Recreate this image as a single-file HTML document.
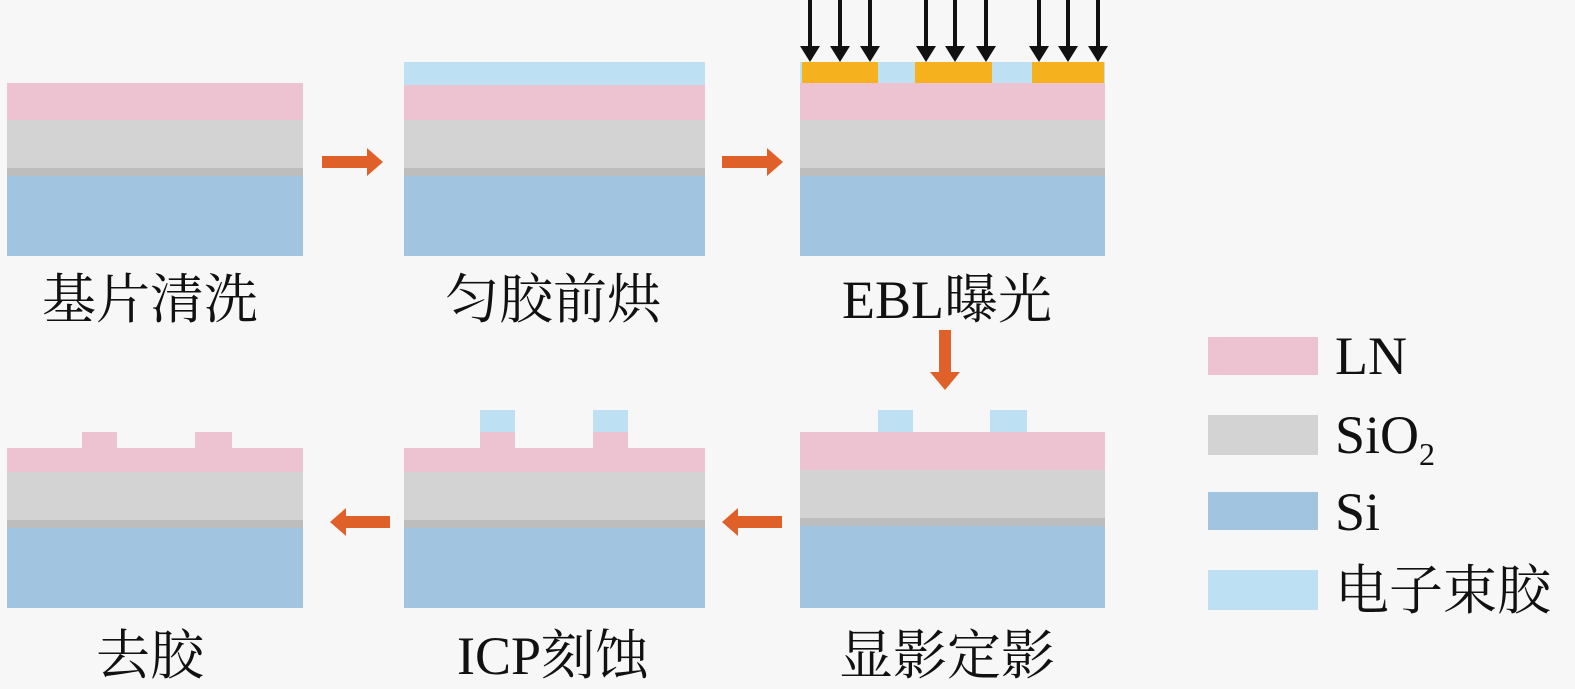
<!DOCTYPE html>
<html><head><meta charset="utf-8"><style>
body{margin:0;background:#f7f7f7;}
svg{display:block}
text{font-family:"Liberation Serif","Noto Serif CJK SC",serif;fill:#111}
</style></head><body>
<svg width="1575" height="689" viewBox="0 0 1575 689">
<rect x="7" y="83" width="296" height="37" fill="#eec3d1"/>
<rect x="7" y="120" width="296" height="48" fill="#d3d3d3"/>
<rect x="7" y="168" width="296" height="8" fill="#bdbdbd"/>
<rect x="7" y="176" width="296" height="80" fill="#a1c4e0"/>
<rect x="404" y="62" width="301" height="23" fill="#bde0f2"/>
<rect x="404" y="85" width="301" height="35" fill="#eec3d1"/>
<rect x="404" y="120" width="301" height="48" fill="#d3d3d3"/>
<rect x="404" y="168" width="301" height="8" fill="#bdbdbd"/>
<rect x="404" y="176" width="301" height="80" fill="#a1c4e0"/>
<rect x="800" y="62" width="305" height="21" fill="#bde0f2"/>
<rect x="802" y="62" width="76" height="21" fill="#f5b21e"/>
<rect x="915" y="62" width="77" height="21" fill="#f5b21e"/>
<rect x="1032" y="62" width="72" height="21" fill="#f5b21e"/>
<rect x="800" y="83" width="305" height="37" fill="#eec3d1"/>
<rect x="800" y="120" width="305" height="48" fill="#d3d3d3"/>
<rect x="800" y="168" width="305" height="8" fill="#bdbdbd"/>
<rect x="800" y="176" width="305" height="80" fill="#a1c4e0"/>
<g stroke="#111" stroke-width="4" fill="#111">
<line x1="810" y1="0" x2="810" y2="48"/><polygon points="800,46 820,46 810,62" stroke="none"/>
<line x1="840" y1="0" x2="840" y2="48"/><polygon points="830,46 850,46 840,62" stroke="none"/>
<line x1="870" y1="0" x2="870" y2="48"/><polygon points="860,46 880,46 870,62" stroke="none"/>
<line x1="926" y1="0" x2="926" y2="48"/><polygon points="916,46 936,46 926,62" stroke="none"/>
<line x1="955" y1="0" x2="955" y2="48"/><polygon points="945,46 965,46 955,62" stroke="none"/>
<line x1="986" y1="0" x2="986" y2="48"/><polygon points="976,46 996,46 986,62" stroke="none"/>
<line x1="1039" y1="0" x2="1039" y2="48"/><polygon points="1029,46 1049,46 1039,62" stroke="none"/>
<line x1="1068" y1="0" x2="1068" y2="48"/><polygon points="1058,46 1078,46 1068,62" stroke="none"/>
<line x1="1098" y1="0" x2="1098" y2="48"/><polygon points="1088,46 1108,46 1098,62" stroke="none"/>
</g>
<rect x="82" y="432" width="35" height="16" fill="#eec3d1"/>
<rect x="195" y="432" width="37" height="16" fill="#eec3d1"/>
<rect x="7" y="448" width="296" height="24" fill="#eec3d1"/>
<rect x="7" y="472" width="296" height="48" fill="#d3d3d3"/>
<rect x="7" y="520" width="296" height="8" fill="#bdbdbd"/>
<rect x="7" y="528" width="296" height="80" fill="#a1c4e0"/>
<rect x="480" y="410" width="35" height="22" fill="#bde0f2"/>
<rect x="593" y="410" width="35" height="22" fill="#bde0f2"/>
<rect x="480" y="432" width="35" height="16" fill="#eec3d1"/>
<rect x="593" y="432" width="35" height="16" fill="#eec3d1"/>
<rect x="404" y="448" width="301" height="24" fill="#eec3d1"/>
<rect x="404" y="472" width="301" height="48" fill="#d3d3d3"/>
<rect x="404" y="520" width="301" height="8" fill="#bdbdbd"/>
<rect x="404" y="528" width="301" height="80" fill="#a1c4e0"/>
<rect x="878" y="410" width="35" height="22" fill="#bde0f2"/>
<rect x="990" y="410" width="37" height="22" fill="#bde0f2"/>
<rect x="800" y="432" width="305" height="38" fill="#eec3d1"/>
<rect x="800" y="470" width="305" height="48" fill="#d3d3d3"/>
<rect x="800" y="518" width="305" height="8" fill="#bdbdbd"/>
<rect x="800" y="526" width="305" height="82" fill="#a1c4e0"/>
<g fill="#e0602a">
<polygon points="322,156 367,156 367,148 383,162 367,176 367,168 322,168"/>
<polygon points="722,156 767,156 767,148 783,162 767,176 767,168 722,168"/>
<polygon points="939,330 951,330 951,372 960,372 945,390 930,372 939,372"/>
<polygon points="390,516 346,516 346,508 330,522 346,536 346,528 390,528"/>
<polygon points="782,516 738,516 738,508 722,522 738,536 738,528 782,528"/>
</g>
<g font-size="54" text-anchor="middle">
<text x="150" y="318">基片清洗</text>
<text x="553" y="318">匀胶前烘</text>
<text x="947" y="318">EBL曝光</text>
<text x="150" y="674">去胶</text>
<text x="553" y="674">ICP刻蚀</text>
<text x="947" y="674">显影定影</text>
</g>
<rect x="1208" y="337" width="110" height="38" fill="#eec3d1"/>
<rect x="1208" y="415" width="110" height="40" fill="#d3d3d3"/>
<rect x="1208" y="492" width="110" height="38" fill="#a1c4e0"/>
<rect x="1208" y="570" width="110" height="40" fill="#bde0f2"/>
<g font-size="54">
<text x="1335" y="374">LN</text>
<text x="1335" y="453">SiO<tspan font-size="32" dy="12">2</tspan></text>
<text x="1335" y="530">Si</text>
<text x="1335" y="609">电子束胶</text>
</g>
</svg>
</body></html>
